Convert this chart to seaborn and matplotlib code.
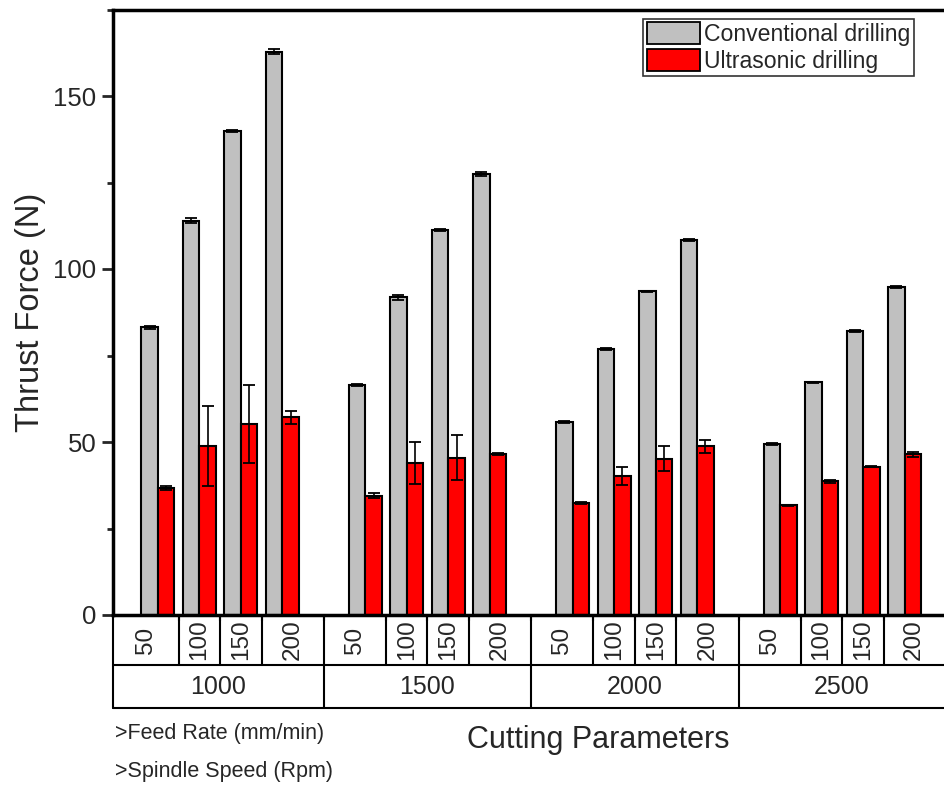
import numpy as np
import pandas as pd
import matplotlib
matplotlib.use("Agg")
import matplotlib.pyplot as plt
import matplotlib.transforms as mtransforms
from matplotlib.patches import Patch
from matplotlib.ticker import MultipleLocator
import seaborn as sns

# ---------------- data ----------------
spindle_speeds = ["1000", "1500", "2000", "2500"]
feed_rates = ["50", "100", "150", "200"]
methods = ["Conventional drilling", "Ultrasonic drilling"]

conventional = [83.2, 114.0, 140.0, 162.8,
                66.5, 91.8, 111.2, 127.5,
                55.9, 76.9, 93.5, 108.3,
                49.4, 67.2, 82.1, 94.7]
conventional_err = [0.4, 0.8, 0.3, 0.8,
                    0.3, 0.8, 0.3, 0.6,
                    0.3, 0.2, 0.2, 0.3,
                    0.2, 0.2, 0.2, 0.3]
ultrasonic = [36.6, 48.8, 55.1, 57.1,
              34.5, 43.9, 45.4, 46.6,
              32.4, 40.3, 45.2, 48.7,
              31.7, 38.6, 42.9, 46.4]
ultrasonic_err = [0.6, 11.5, 11.3, 1.8,
                  0.7, 6.1, 6.5, 0.3,
                  0.2, 2.6, 3.5, 2.0,
                  0.2, 0.4, 0.1, 0.6]

# ---------------- build table ----------------
slots, order = [], []
for gi, s in enumerate(spindle_speeds):
    for f in feed_rates:
        slots.append(f"{s}-{f}")
        order.append(f"{s}-{f}")
    if gi < len(spindle_speeds) - 1:
        order.append(f"gap{gi}")

df = pd.DataFrame({
    "slot": slots * 2,
    "method": [methods[0]] * len(slots) + [methods[1]] * len(slots),
    "force": conventional + ultrasonic,
    "err": conventional_err + ultrasonic_err,
})

colors = {methods[0]: "#C0C0C0", methods[1]: "#FF0000"}

sns.set_style("white")
plt.rcParams["font.family"] = ["Liberation Sans", "DejaVu Sans"]

fig = plt.figure(figsize=(9.44, 7.87), dpi=100)
ax = fig.add_axes([113 / 944, 1 - 615 / 787, 1 - 113 / 944, (615 - 9.5) / 787])

sns.barplot(data=df, x="slot", y="force", hue="method", order=order,
            hue_order=methods, palette=colors, width=0.8, saturation=1,
            edgecolor="black", linewidth=1.5, errorbar=None, ax=ax)

# error bars at the bar positions that seaborn placed
for ci, m in enumerate(methods):
    sub = df[df["method"] == m]
    bars = [b for b in ax.containers[ci] if np.isfinite(b.get_height())]
    bars = sorted(bars, key=lambda b: b.get_x())
    for b, (_, row) in zip(bars, sub.iterrows()):
        xc = b.get_x() + b.get_width() / 2
        ax.errorbar(xc, row["force"], yerr=row["err"], fmt="none",
                    ecolor="black", elinewidth=1.2, capsize=4.5, capthick=1.3,
                    zorder=5)

# axes styling
xl = (-1.08, 18.95)
ax.set_xlim(*xl)
ax.set_ylim(0, 175)
ax.yaxis.set_major_locator(MultipleLocator(50))
ax.yaxis.set_minor_locator(MultipleLocator(25))
ax.tick_params(axis="y", which="major", direction="out", length=8, width=2,
               labelsize=18.5, pad=4, left=True)
ax.tick_params(axis="y", which="minor", direction="out", length=4, width=2, left=True)

boundaries = [0.5, 1.5, 2.5, 4, 5.5, 6.5, 7.5, 9, 10.5, 11.5, 12.5, 14, 15.5, 16.5, 17.5]
ax.set_xticks(boundaries)
ax.set_xticklabels([])
ax.tick_params(axis="x", which="major", direction="out", length=4, width=1.5, bottom=True)
ax.set_xlabel("")
ax.set_ylabel("Thrust Force (N)", fontsize=23.5, labelpad=5)

for side in ["left", "top", "bottom"]:
    ax.spines[side].set_visible(True)
    ax.spines[side].set_color("black")
    ax.spines[side].set_linewidth(2.5)
ax.spines["right"].set_visible(False)

# legend
handles = [Patch(facecolor=colors[m], edgecolor="black", linewidth=1.3) for m in methods]
leg = ax.legend(handles, methods, loc="upper right", fontsize=16.6,
                frameon=True, fancybox=False, edgecolor="black",
                handlelength=2.3, handleheight=1.05, handletextpad=0.2,
                borderpad=0.15, labelspacing=0.15, borderaxespad=0.4,
                bbox_to_anchor=(0.975, 1.0))
leg.get_frame().set_linewidth(1.2)

# ---------------- category table below the axis ----------------
trans = mtransforms.blended_transform_factory(ax.transData, ax.transAxes)
h_ax = (615 - 9.5)
r1 = -50 / h_ax
r2 = -93 / h_ax
lw = 1.5
kw = dict(color="black", lw=lw, transform=trans, clip_on=False)
ax.plot([xl[0], xl[1]], [r1, r1], **kw)
ax.plot([xl[0], xl[1]], [r2, r2], **kw)
ax.plot([xl[0], xl[0]], [0, r2], **kw)
group_edges = [4, 9, 14]
for b in boundaries:
    if b in group_edges:
        ax.plot([b, b], [0, r2], **kw)
    else:
        ax.plot([b, b], [0, r1], **kw)

edges = [xl[0]] + boundaries + [xl[1]]
for i in range(len(edges) - 1):
    xc = (edges[i] + edges[i + 1]) / 2
    ax.text(xc, (0 + r1) / 2, feed_rates[i % 4], transform=trans, rotation=90,
            ha="center", va="center", fontsize=17.5)
gedges = [xl[0]] + group_edges + [xl[1]]
for i, s in enumerate(spindle_speeds):
    xc = (gedges[i] + gedges[i + 1]) / 2
    ax.text(xc, (r1 + r2) / 2, s, transform=trans, ha="center", va="center",
            fontsize=18)

fig.text(598 / 944, 1 - 740 / 787, "Cutting Parameters", ha="center", va="center",
         fontsize=22)
fig.text(115 / 944, 1 - 733 / 787, ">Feed Rate (mm/min)", ha="left", va="center",
         fontsize=15.5)
fig.text(115 / 944, 1 - 772 / 787, ">Spindle Speed (Rpm)", ha="left", va="center",
         fontsize=15.5)

fig.savefig("out.png", dpi=100)
